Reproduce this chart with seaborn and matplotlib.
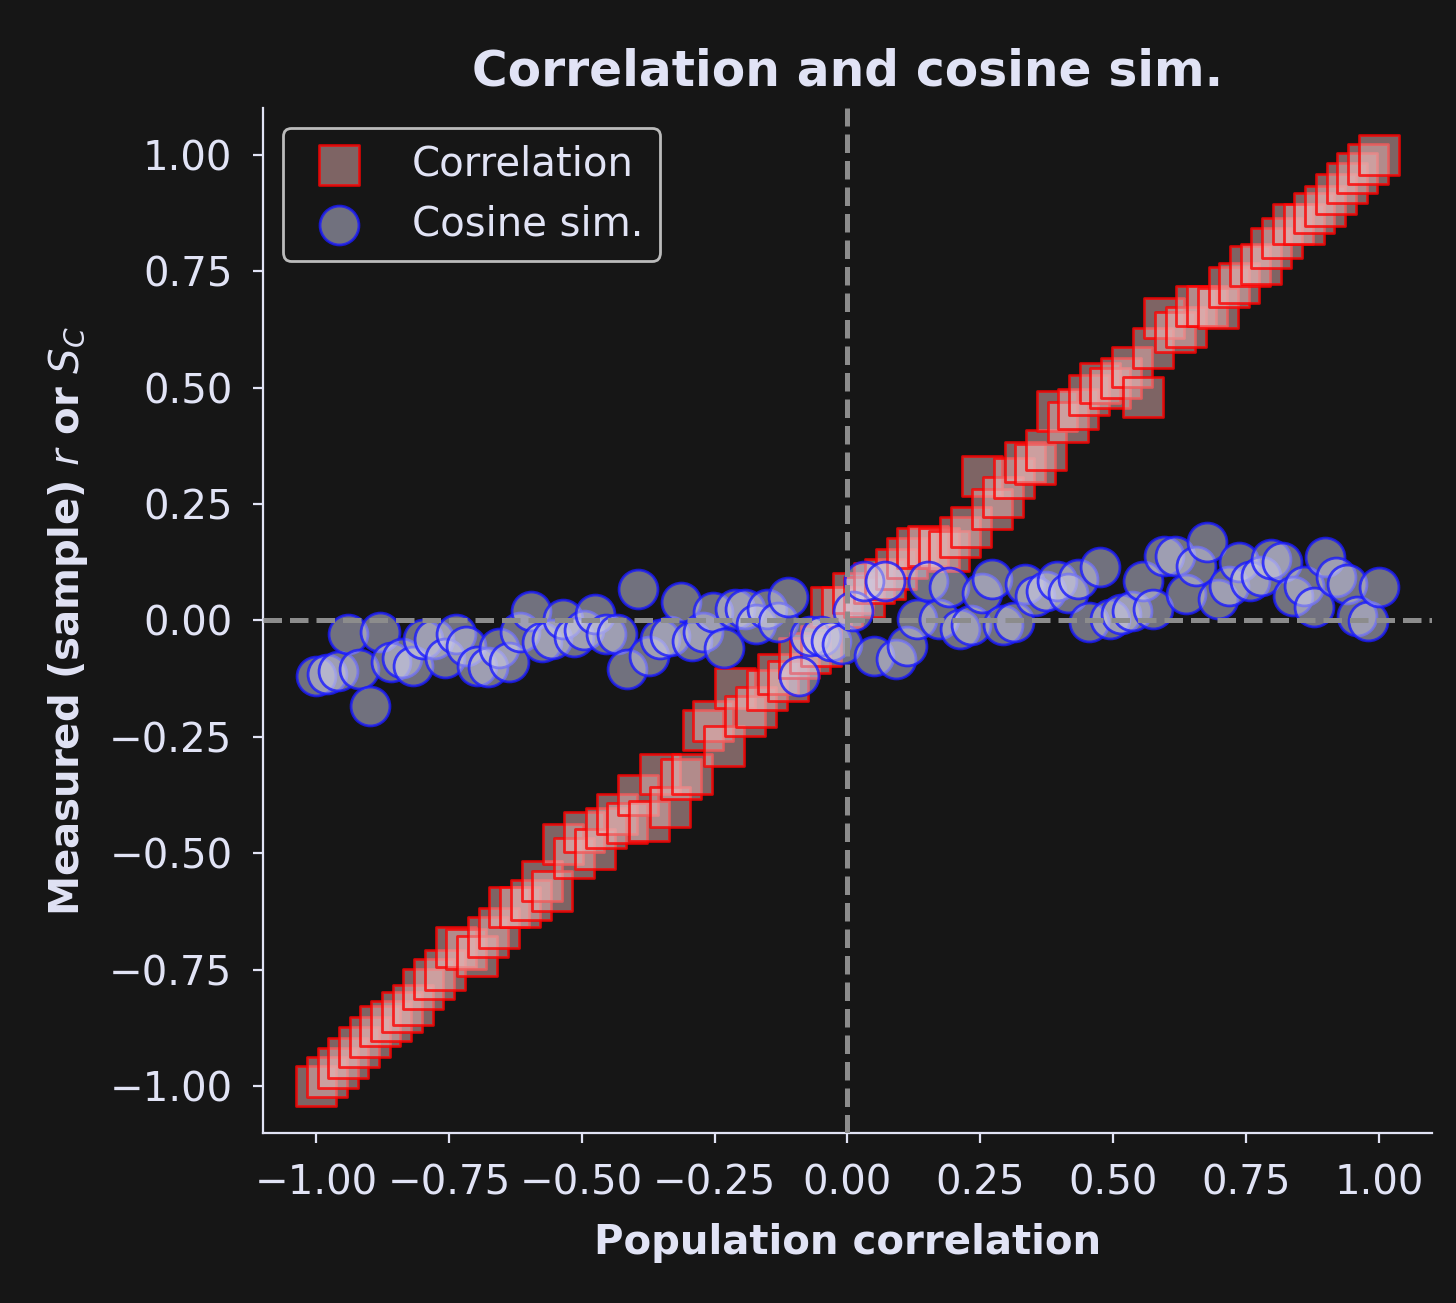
import numpy as np
import pandas as pd
import matplotlib
matplotlib.use("Agg")
import matplotlib.pyplot as plt
import seaborn as sns

# ---- data ----
pop_corr = np.linspace(-1, 1, 100)

measured_corr = [
    -1.00, -0.98, -0.96, -0.94, -0.915, -0.895, -0.87, -0.86, -0.84, -0.825,
    -0.79, -0.77, -0.75, -0.70, -0.705, -0.72, -0.68, -0.66, -0.615, -0.615,
    -0.60, -0.56, -0.58, -0.48, -0.51, -0.455, -0.49, -0.445, -0.415, -0.435,
    -0.375, -0.43, -0.33, -0.40, -0.34, -0.33, -0.235, -0.215, -0.27, -0.145,
    -0.205, -0.185, -0.15, -0.115, -0.13, -0.08, -0.07, -0.055, 0.03, 0.03,
    0.06, 0.05, 0.08, 0.09, 0.11, 0.135, 0.155, 0.16, 0.155, 0.15,
    0.18, 0.20, 0.31, 0.24, 0.265, 0.305, 0.34, 0.335, 0.365, 0.45,
    0.425, 0.455, 0.485, 0.51, 0.50, 0.52, 0.545, 0.48, 0.585, 0.65,
    0.62, 0.63, 0.675, 0.675, 0.67, 0.715, 0.725, 0.76, 0.765, 0.80,
    0.82, 0.85, 0.85, 0.875, 0.89, 0.915, 0.94, 0.96, 0.98, 1.00,
]

cosine_sim = [
    -0.12, -0.115, -0.108, -0.03, -0.105, -0.183, -0.025, -0.09, -0.08, -0.097,
    -0.04, -0.04, -0.08, -0.03, -0.055, -0.097, -0.10, -0.06, -0.09, -0.025,
    0.02, -0.046, -0.04, 0.003, -0.036, -0.02, 0.014, -0.03, -0.03, -0.104,
    0.067, -0.076, -0.04, -0.033, 0.04, -0.044, -0.025, 0.018, -0.06, 0.025,
    0.025, -0.008, 0.025, -0.004, 0.05, -0.119, -0.033, -0.033, -0.043, -0.05,
    0.02, 0.085, -0.076, 0.085, -0.082, -0.054, 0.003, 0.085, 0.003, 0.072,
    -0.018, -0.01, 0.06, 0.09, -0.01, -0.003, 0.078, 0.053, 0.063, 0.085,
    0.06, 0.09, -0.003, 0.115, 0.003, 0.014, 0.02, 0.085, 0.025, 0.138,
    0.138, 0.057, 0.117, 0.168, 0.046, 0.074, 0.125, 0.085, 0.095, 0.132,
    0.125, 0.053, 0.074, 0.029, 0.136, 0.093, 0.078, 0.01, -0.001, 0.072,
]

labels = ["Correlation", "Cosine sim."]
title = "Correlation and cosine sim."
xlabel = "Population correlation"
ylabel = "Measured (sample) $r$ or $S_C$"
ticks = [-1.0, -0.75, -0.5, -0.25, 0.0, 0.25, 0.5, 0.75, 1.0]

# ---- style ----
BG = "#161616"
FG = "#e1e3f5"
FS = 14.5
sns.set_style("ticks")
plt.rcParams.update({
    "figure.facecolor": BG,
    "axes.facecolor": BG,
    "savefig.facecolor": BG,
    "axes.edgecolor": FG,
    "axes.labelcolor": FG,
    "text.color": FG,
    "xtick.color": FG,
    "ytick.color": FG,
    "font.size": FS,
})
plt.rcParams["font.family"] = ["DejaVu Sans"]

df = pd.DataFrame({"pop": pop_corr, "r": measured_corr, "cs": cosine_sim})

fig = plt.figure(figsize=(7.28, 6.515), dpi=200)
ax = fig.add_axes([0.1806, 0.1305, 0.8029, 0.7866])

sns.scatterplot(data=df, x="pop", y="r", marker="s", s=205,
                facecolor=(0.9, 0.7, 0.7, 0.5), edgecolor=(1.0, 0.0, 0.0, 0.8),
                linewidth=1.0, label=labels[0], ax=ax, zorder=2)
sns.scatterplot(data=df, x="pop", y="cs", marker="o", s=196,
                facecolor=(0.8, 0.8, 0.9, 0.5), edgecolor=(0.1, 0.1, 1.0, 0.8),
                linewidth=1.0, label=labels[1], ax=ax, zorder=3)

ax.axhline(0, color=(0.55, 0.55, 0.55), linestyle="--", linewidth=1.8, zorder=4)
ax.axvline(0, color=(0.55, 0.55, 0.55), linestyle="--", linewidth=1.8, zorder=4)

ax.set_xlim(-1.1, 1.1)
ax.set_ylim(-1.1, 1.1)
ax.set_xticks(ticks)
ax.set_yticks(ticks)
ax.tick_params(labelsize=FS, colors=FG, pad=7.5)
ax.set_xlabel(xlabel, fontweight="bold", fontsize=FS, labelpad=7)
ax.set_ylabel(ylabel, fontweight="bold", fontsize=FS, labelpad=7)
ax.set_title(title, fontweight="bold", fontsize=17.5, color=FG, pad=8)
sns.despine(ax=ax)

leg = ax.legend(loc="upper left", fontsize=FS, facecolor=BG,
                edgecolor="#bbbbbb", framealpha=1.0)
for t in leg.get_texts():
    t.set_color(FG)

fig.savefig("out.png", dpi=200)
